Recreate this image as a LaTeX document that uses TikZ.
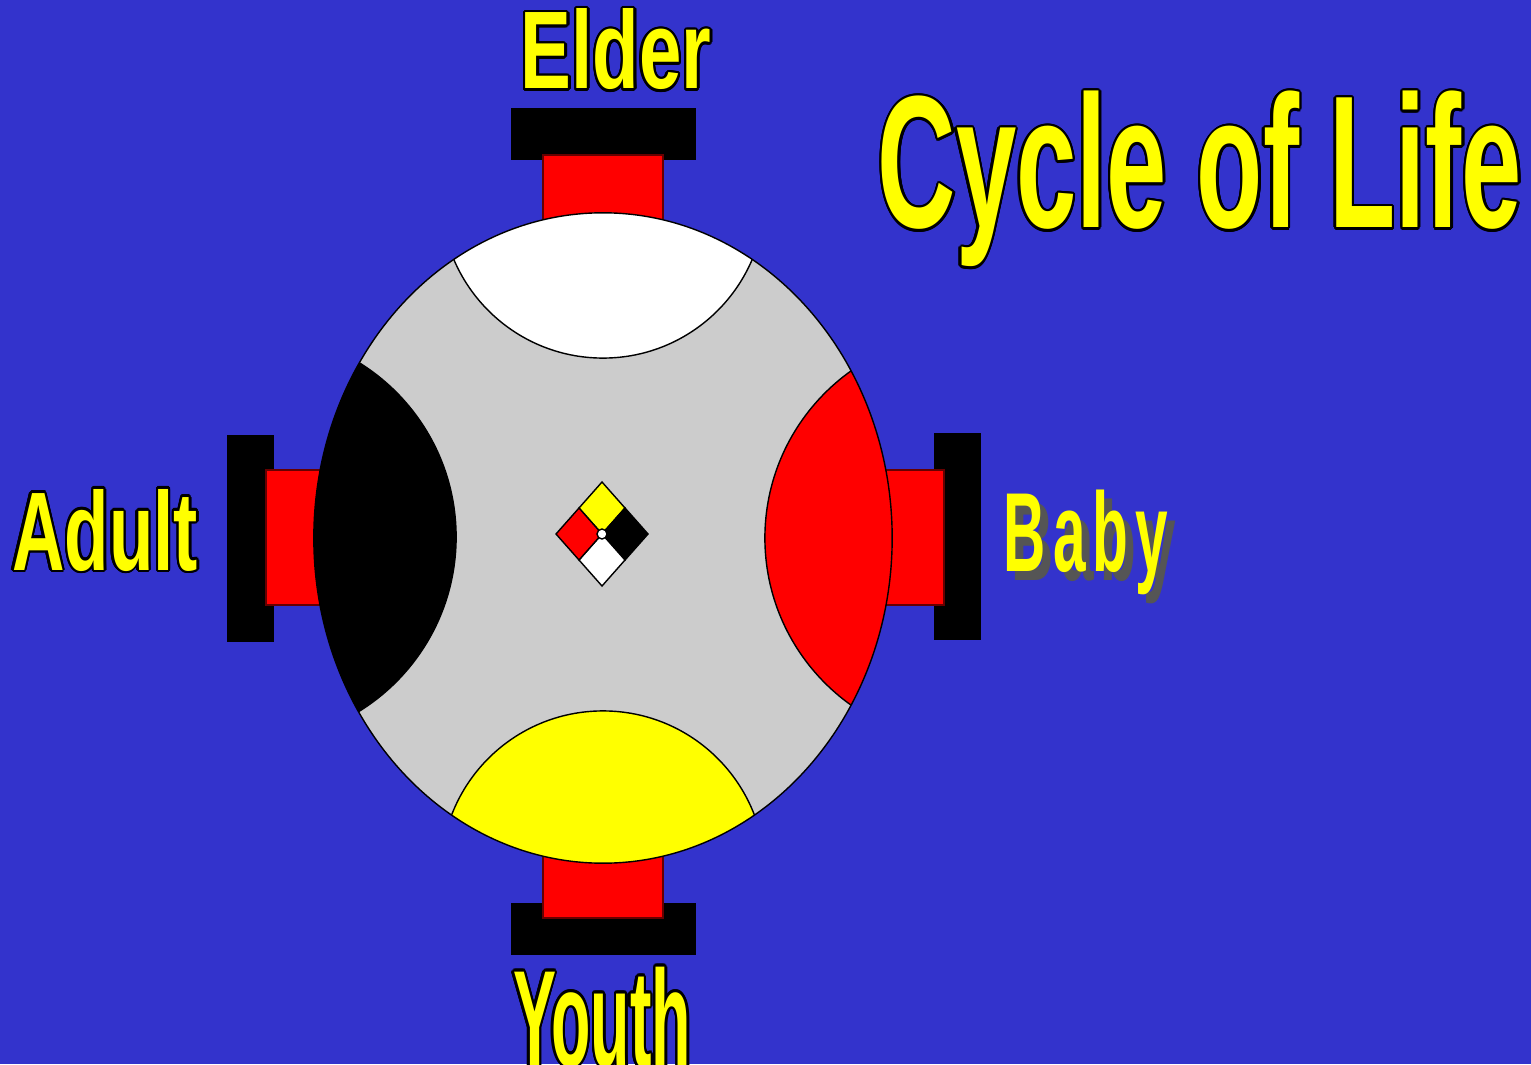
\documentclass[tikz,border=0pt]{standalone}
\usepackage{fontspec}
\setmainfont{Liberation Sans}
\usepackage{contour}
\contourlength{0.7pt}
\usetikzlibrary{calc}
\definecolor{bgblue}{HTML}{3333CC}
\definecolor{discgray}{HTML}{CCCCCC}
\definecolor{shadowgray}{HTML}{555555}
\definecolor{sunyellow}{HTML}{FFFF00}
\definecolor{plugred}{HTML}{FF0000}
\newcommand{\lifelabel}[3]{\textcolor{sunyellow}{\contour{black}{\fontsize{#1}{#1}\selectfont\bfseries\scalebox{#2}[1]{#3}}}}
\newcommand{\babytext}{\fontsize{32pt}{32pt}\selectfont\bfseries\scalebox{0.52}[1]{B\kern4pt a\kern4pt b\kern4pt y}}
\begin{document}
\begin{tikzpicture}[x=0.01cm, y=-0.01cm, line width=0.4pt,
    bar/.style={fill=black},
    plug/.style={fill=plugred, draw=black!60!red},
    lbl/.style={inner sep=0pt, anchor=base}]
  \useasboundingbox (0,0) rectangle (1531,1064);
  \clip (0,0) rectangle (1531,1064);
  \fill[bgblue] (0,0) rectangle (1531,1064);
  % Bars
  \fill[bar] (511,108) rectangle (696,160);
  \filldraw[plug] (543,155) rectangle (663,240);
  \fill[bar] (511,903) rectangle (696,955);
  \filldraw[plug] (543,840) rectangle (663,918);
  \fill[bar] (227,435) rectangle (274,642);
  \filldraw[plug] (266,470) rectangle (340,605);
  \fill[bar] (934,433) rectangle (981,640);
  \filldraw[plug] (870,470) rectangle (944,605);
  % Wheel
  \coordinate (hub) at (603,538);
  \fill[discgray] (hub) ellipse [x radius=2.89cm, y radius=3.25cm];
  \begin{scope}
    \clip (hub) ellipse [x radius=2.89cm, y radius=3.25cm];
    \filldraw[fill=white] (603,196) circle [radius=1.62cm];
    \filldraw[fill=sunyellow] (603,873) circle [radius=1.62cm];
    \filldraw[fill=black] (251,537) circle [radius=2.05cm];
    \filldraw[fill=plugred] (970,538) circle [radius=2.05cm];
  \end{scope}
  \draw (hub) ellipse [x radius=2.89cm, y radius=3.25cm];
  % Diamond
  \coordinate (dt) at (602,482);
  \coordinate (dr) at (648,534);
  \coordinate (db) at (602,586);
  \coordinate (dl) at (556,534);
  \coordinate (dc) at (602,534);
  \filldraw[fill=sunyellow] (dt) -- ($(dt)!0.5!(dr)$) -- (dc) -- ($(dt)!0.5!(dl)$) -- cycle;
  \filldraw[fill=black] (dr) -- ($(dr)!0.5!(db)$) -- (dc) -- ($(dr)!0.5!(dt)$) -- cycle;
  \filldraw[fill=white] (db) -- ($(db)!0.5!(dl)$) -- (dc) -- ($(db)!0.5!(dr)$) -- cycle;
  \filldraw[fill=plugred] (dl) -- ($(dl)!0.5!(dt)$) -- (dc) -- ($(dl)!0.5!(db)$) -- cycle;
  \filldraw[fill=white] (dc) circle [radius=0.05cm];
  % Labels
  \node[lbl] (elder) at (616,89) {\lifelabel{31.4pt}{0.69}{Elder}};
  \node[lbl] (adult) at (105,570) {\lifelabel{31.8pt}{0.65}{Adult}};
  \node[lbl] (youth) at (602,1066) {\lifelabel{39pt}{0.47}{Youth}};
  \node[lbl, text=shadowgray] (babyshadow) at (1094,580) {\babytext};
  \node[lbl, text=sunyellow] (baby) at (1086,571) {\babytext};
  \node[lbl] (title) at (1200,228) {\lifelabel{53.6pt}{0.575}{Cycle of Life}};
\end{tikzpicture}
\end{document}
